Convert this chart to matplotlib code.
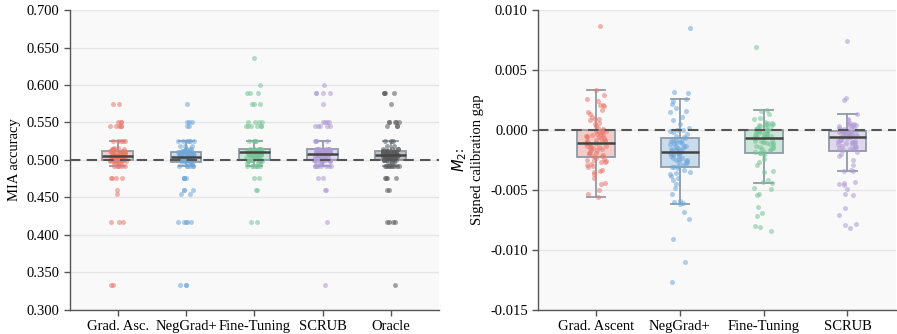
import numpy as np
import matplotlib
matplotlib.use("Agg")
import matplotlib.pyplot as plt

plt.rcParams['font.family'] = ['Liberation Serif', 'DejaVu Serif']
plt.rcParams['axes.unicode_minus'] = False

# ---- left panel: MIA accuracy (value levels and how many runs hit each level)
mia_labels = ["Grad. Asc.", "NegGrad+", "Fine-Tuning", "SCRUB", "Oracle"]

ga_lvl = [0.333, 0.417, 0.455, 0.460, 0.476, 0.492, 0.496, 0.498, 0.500, 0.502, 0.504,
          0.505, 0.506, 0.508, 0.510, 0.512, 0.514, 0.516, 0.525, 0.545, 0.550, 0.575]
ga_cnt = [2, 3, 1, 1, 4, 6, 3, 4, 8, 6, 7, 8, 6, 7, 6, 5, 4, 2, 5, 5, 3, 2]

ng_lvl = [0.333, 0.417, 0.455, 0.460, 0.476, 0.492, 0.495, 0.497, 0.500, 0.502, 0.504,
          0.506, 0.508, 0.510, 0.512, 0.515, 0.518, 0.525, 0.545, 0.550, 0.575]
ng_cnt = [3, 5, 2, 3, 4, 6, 1, 5, 7, 8, 9, 8, 7, 6, 5, 4, 3, 6, 2, 3, 1]

ft_lvl = [0.417, 0.460, 0.476, 0.492, 0.496, 0.498, 0.500, 0.503, 0.506, 0.508, 0.510,
          0.512, 0.514, 0.525, 0.545, 0.550, 0.575, 0.590, 0.600, 0.636]
ft_cnt = [2, 2, 2, 7, 3, 4, 6, 5, 8, 10, 11, 9, 8, 5, 6, 4, 3, 3, 1, 1]

sc_lvl = [0.333, 0.417, 0.460, 0.476, 0.492, 0.496, 0.498, 0.500, 0.503, 0.506, 0.508,
          0.510, 0.512, 0.514, 0.525, 0.545, 0.550, 0.575, 0.590, 0.600]
sc_cnt = [1, 1, 2, 2, 8, 3, 4, 6, 6, 9, 10, 10, 10, 9, 4, 5, 4, 1, 4, 1]

or_lvl = [0.333, 0.417, 0.460, 0.476, 0.492, 0.497, 0.500, 0.502, 0.504, 0.506, 0.508,
          0.510, 0.512, 0.515, 0.518, 0.525, 0.545, 0.550, 0.575, 0.590]
or_cnt = [1, 4, 2, 4, 9, 3, 6, 6, 8, 9, 10, 9, 7, 4, 2, 3, 3, 5, 1, 4]

# ---- right panel: M2 signed calibration gap
cal_labels = ["Grad. Ascent", "NegGrad+", "Fine-Tuning", "SCRUB"]

cal_ga = [-0.0056, -0.0053, -0.0050, -0.0045, -0.0044, -0.0040, -0.0037, -0.0035, -0.0034, -0.0033,
          -0.0031, -0.0030, -0.0029, -0.0028, -0.0027, -0.0027, -0.0026, -0.0025, -0.0025, -0.0024,
          -0.0023, -0.0022, -0.0022, -0.0021, -0.0020, -0.0019, -0.0019, -0.0018, -0.0017, -0.0017,
          -0.0016, -0.0015, -0.0015, -0.0014, -0.0014, -0.0013, -0.0013, -0.0012, -0.0012, -0.0011,
          -0.0011,
          -0.0010, -0.0010, -0.0009, -0.0009, -0.0008, -0.0008, -0.0007, -0.0007, -0.0006, -0.0006,
          -0.0005, -0.0005, -0.0004, -0.0004, -0.0003, -0.0003, -0.0002, -0.0002, -0.0001, -0.0001,
          0.0000, 0.0001, 0.0002, 0.0003, 0.0005, 0.0006, 0.0008, 0.0009, 0.0009, 0.0011,
          0.0013, 0.0015, 0.0017, 0.0020, 0.0021, 0.0021, 0.0024, 0.0026, 0.0029, 0.0033,
          0.0087]

cal_ng = [-0.0127, -0.0110, -0.0091, -0.0074, -0.0068,
          -0.0062, -0.0061, -0.0060, -0.0059, -0.0053, -0.0048, -0.0045, -0.0042, -0.0040, -0.0038,
          -0.0037, -0.0036, -0.0035, -0.0033, -0.0032, -0.0031,
          -0.0031, -0.0030, -0.0029, -0.0028, -0.0027, -0.0027, -0.0026, -0.0025, -0.0025, -0.0024,
          -0.0023, -0.0023, -0.0022, -0.0022, -0.0021, -0.0020, -0.0020, -0.0019, -0.0019, -0.0018,
          -0.0018, -0.0017, -0.0017, -0.0016, -0.0016, -0.0015, -0.0015, -0.0014, -0.0013, -0.0013,
          -0.0012, -0.0012, -0.0011, -0.0011, -0.0010, -0.0009, -0.0009, -0.0008, -0.0008, -0.0007,
          -0.0006, -0.0005, -0.0003, -0.0002, -0.0001, 0.0000, 0.0000, 0.0002, 0.0005, 0.0008,
          0.0011, 0.0015, 0.0016, 0.0018, 0.0022, 0.0024, 0.0026,
          0.0031, 0.0032, 0.0085]

cal_ft = [-0.0084, -0.0081, -0.0080, -0.0072, -0.0069, -0.0064, -0.0054, -0.0053, -0.0049, -0.0048,
          -0.0044, -0.0043, -0.0042, -0.0035, -0.0034, -0.0029, -0.0027, -0.0024, -0.0021, -0.0019,
          -0.0019, -0.0018, -0.0018, -0.0017, -0.0016, -0.0016, -0.0015, -0.0014, -0.0014, -0.0013,
          -0.0012, -0.0012, -0.0011, -0.0011, -0.0010, -0.0010, -0.0009, -0.0009, -0.0008, -0.0007,
          -0.0007, -0.0007, -0.0006, -0.0006, -0.0006, -0.0005, -0.0005, -0.0005, -0.0004, -0.0004,
          -0.0004, -0.0003, -0.0003, -0.0003, -0.0002, -0.0002, -0.0002, -0.0001, -0.0001, -0.0001,
          0.0000, 0.0000, 0.0001, 0.0001, 0.0002, 0.0002, 0.0003, 0.0003, 0.0004, 0.0004,
          0.0005, 0.0005, 0.0006, 0.0006, 0.0007, 0.0009, 0.0010, 0.0013, 0.0016, 0.0017,
          0.0069]

cal_sc = [-0.0082, -0.0079, -0.0078, -0.0071, -0.0065, -0.0054, -0.0053, -0.0049, -0.0046, -0.0045,
          -0.0044, -0.0043,
          -0.0034, -0.0034, -0.0033, -0.0029, -0.0025, -0.0022, -0.0020, -0.0018,
          -0.0017, -0.0016, -0.0016, -0.0015, -0.0015, -0.0014, -0.0013, -0.0013, -0.0012, -0.0012,
          -0.0011, -0.0011, -0.0010, -0.0010, -0.0009, -0.0009, -0.0008, -0.0008, -0.0007, -0.0006,
          -0.0006, -0.0006, -0.0005, -0.0005, -0.0005, -0.0004, -0.0004, -0.0004, -0.0003, -0.0003,
          -0.0003, -0.0003, -0.0002, -0.0002, -0.0002, -0.0002, -0.0001, -0.0001, -0.0001, -0.0001,
          0.0000, 0.0000, 0.0001, 0.0001, 0.0002, 0.0002, 0.0003, 0.0003, 0.0004, 0.0004,
          0.0004, 0.0005, 0.0005, 0.0006, 0.0008, 0.0009, 0.0013,
          0.0025, 0.0027, 0.0074]

colors = ["#e8796d", "#6ea7d9", "#76c496", "#b09ad6", "#5a5a5a"]
box_edge = "#8e9aa6"

mia = [np.repeat(l, c) for l, c in [(ga_lvl, ga_cnt), (ng_lvl, ng_cnt), (ft_lvl, ft_cnt),
                                      (sc_lvl, sc_cnt), (or_lvl, or_cnt)]]
cal = [np.array(v) for v in [cal_ga, cal_ng, cal_ft, cal_sc]]

rng = np.random.default_rng(3)


def draw_panel(ax, groups, labels, ref):
    pos = np.arange(len(groups))
    bp = ax.boxplot(groups, positions=pos, widths=0.45, patch_artist=True, showfliers=False,
                    capwidths=0.22, zorder=2,
                    boxprops=dict(edgecolor=box_edge, linewidth=1.3),
                    whiskerprops=dict(color=box_edge, linewidth=1.3),
                    capprops=dict(color=box_edge, linewidth=1.3),
                    medianprops=dict(color="#444444", linewidth=1.8, zorder=5))
    for patch, c in zip(bp["boxes"], colors):
        patch.set_facecolor(matplotlib.colors.to_rgba(c, 0.35))
    for i, vals in enumerate(groups):
        xj = i + rng.uniform(-0.12, 0.12, len(vals))
        ax.scatter(xj, vals, s=13, color=colors[i], alpha=0.55, linewidths=0, zorder=3)
    ax.axhline(ref, color="#555555", linestyle=(0, (5, 3)), linewidth=1.5, zorder=4)
    ax.set_xticks(pos)
    ax.set_xticklabels(labels)
    ax.set_facecolor("#f9f9f9")
    ax.grid(axis="y", color="#e6e6e6", linewidth=1.0, zorder=0)
    ax.set_axisbelow(True)
    for s in ["top", "right"]:
        ax.spines[s].set_visible(False)
    for s in ["left", "bottom"]:
        ax.spines[s].set_color("#555555")
        ax.spines[s].set_linewidth(1.0)
    ax.tick_params(colors="#555555", labelcolor="black", labelsize=10.5, length=4, width=1.0)


fig = plt.figure(figsize=(8.97, 3.34), dpi=100)
ax1 = fig.add_axes([0.078, 0.072, 0.411, 0.898])
ax2 = fig.add_axes([0.600, 0.072, 0.399, 0.898])

draw_panel(ax1, mia, mia_labels, 0.5)
ax1.set_ylim(0.3, 0.7)
ax1.set_xlim(-0.7, 4.7)
ax1.set_yticks(np.arange(0.3, 0.7001, 0.05))
ax1.set_yticklabels(["%.3f" % t for t in np.arange(0.3, 0.7001, 0.05)])
ax1.set_ylabel("MIA accuracy", fontsize=10.5)

draw_panel(ax2, cal, cal_labels, 0.0)
ax2.set_ylim(-0.015, 0.010)
ax2.set_xlim(-0.69, 3.58)
ax2.set_yticks(np.arange(-0.015, 0.0101, 0.005))
ax2.set_yticklabels(["%.3f" % t if abs(t) > 1e-9 else "0.000" for t in np.arange(-0.015, 0.0101, 0.005)])
ax2.set_ylabel("$M_2$:\nSigned calibration gap", fontsize=10.5)

fig.savefig("out.png", dpi=100)
